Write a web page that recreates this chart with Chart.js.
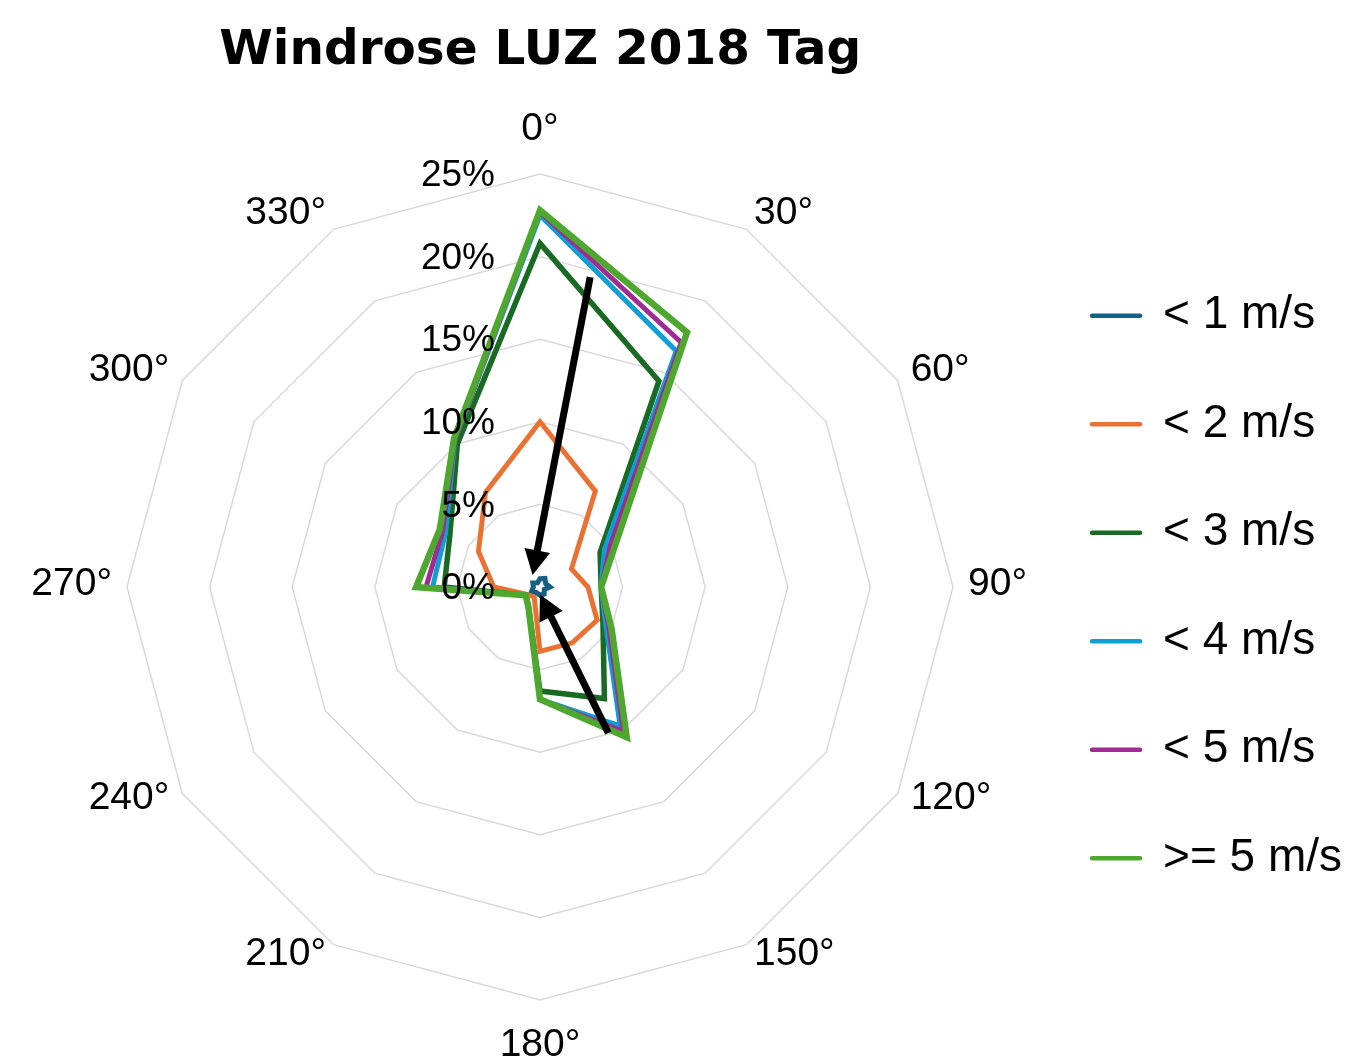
<!DOCTYPE html>
<html>
<head>
<meta charset="utf-8">
<script src="https://cdn.jsdelivr.net/npm/chart.js@4.4.1/dist/chart.umd.min.js"></script>
<style>
  html, body { margin: 0; padding: 0; background: #fff; overflow: hidden; }
  #wrap { position: relative; width: 1352px; height: 1056px; }
</style>
</head>
<body>
<div id="wrap"><canvas id="rose"></canvas></div>
<script>
const title = 'Windrose LUZ 2018 Tag'
const directions = ['0°', '30°', '60°', '90°', '120°', '150°', '180°', '210°', '240°', '270°', '300°', '330°']
const seriesNames = ['< 1 m/s', '< 2 m/s', '< 3 m/s', '< 4 m/s', '< 5 m/s', '>= 5 m/s']

// share of hours per direction, in %
const below1 = [0.5, 0.6, 0.4, 0.6, 0.3, 0.5, 0.5, 0.4, 0.6, 0.4, 0.5, 0.3]
const below2 = [10.0, 6.7, 2.2, 2.9, 4.0, 3.9, 3.9, 0.7, 0.9, 2.8, 4.3, 6.6]
const below3 = [20.8, 14.4, 4.2, 3.7, 4.4, 7.8, 6.3, 1.4, 1.0, 5.8, 6.3, 10.0]
const below4 = [22.5, 16.5, 4.5, 3.7, 4.6, 9.7, 6.8, 1.4, 1.0, 6.5, 6.6, 10.3]
const below5 = [22.7, 17.1, 4.9, 3.7, 4.8, 10.1, 6.8, 1.4, 1.0, 6.9, 6.8, 10.3]
const atLeast5 = [22.8, 17.8, 5.3, 3.7, 5.0, 10.5, 6.8, 1.4, 1.0, 7.5, 7.0, 10.4]

const axisMax = 25
const axisStep = 5

// black annotation arrows, [degrees, %] from tail to tip
const arrowTails = [[9.2, 19.0], [154.9, 9.75]]
const arrowTips = [[328, 0.85], [180, 0.45]]

const colors = ['#156082', '#E97132', '#196B24', '#0F9ED5', '#A02B93', '#4EA72E']
const widths = [5, 5, 5.5, 5, 5, 6.5]
const drawOrder = [5, 4, 3, 2, 1, 0]
const values = [below1, below2, below3, below4, below5, atLeast5]

const labelFont = 'Liberation Sans, Arial, sans-serif'

const polarPoint = (scale, deg, value) => {
  const d = scale.getDistanceFromCenterForValue(value)
  const a = deg * Math.PI / 180
  return [scale.xCenter + d * Math.sin(a), scale.yCenter - d * Math.cos(a)]
}

const arrowPlugin = {
  id: 'arrows',
  afterDatasetsDraw(chart) {
    const scale = chart.scales.r
    const ctx = chart.ctx
    ctx.save()
    ctx.fillStyle = '#000'
    ctx.strokeStyle = '#000'
    ctx.lineWidth = 7
    arrowTails.forEach((tail, i) => {
      const [x1, y1] = polarPoint(scale, tail[0], tail[1])
      const [x2, y2] = polarPoint(scale, arrowTips[i][0], arrowTips[i][1])
      const len = Math.hypot(x2 - x1, y2 - y1)
      const ux = (x2 - x1) / len
      const uy = (y2 - y1) / len
      const head = 25
      const half = 13
      const bx = x2 - ux * head
      const by = y2 - uy * head
      ctx.beginPath()
      ctx.moveTo(x1, y1)
      ctx.lineTo(bx + ux * 2, by + uy * 2)
      ctx.stroke()
      ctx.beginPath()
      ctx.moveTo(x2, y2)
      ctx.lineTo(bx - uy * half, by + ux * half)
      ctx.lineTo(bx + uy * half, by - ux * half)
      ctx.closePath()
      ctx.fill()
    })
    ctx.restore()
  }
}

const textPlugin = {
  id: 'roseText',
  afterDraw(chart) {
    const scale = chart.scales.r
    const ctx = chart.ctx
    const area = chart.chartArea
    ctx.save()
    ctx.fillStyle = '#000'

    // title over the plot
    ctx.font = 'bold 48.5px DejaVu Sans, Verdana, sans-serif'
    ctx.textAlign = 'center'
    ctx.textBaseline = 'alphabetic'
    ctx.fillText(title, (area.left + area.right) / 2, 64)

    // direction labels, anchored just outside the outer ring
    ctx.font = '39px ' + labelFont
    ctx.textBaseline = 'middle'
    directions.forEach((label, i) => {
      const p = scale.getPointPosition(i, scale.drawingArea + 15)
      const a = scale.getIndexAngle(i)
      const s = Math.sin(a)
      const c = Math.cos(a)
      ctx.textAlign = s > 0.01 ? 'left' : (s < -0.01 ? 'right' : 'center')
      const dy = Math.abs(s) < 0.01 ? -c * 30 : -3
      ctx.fillText(label, p.x, p.y + dy)
    })

    // percent ticks
    ctx.font = '37px ' + labelFont
    ctx.textAlign = 'right'
    scale.ticks.forEach(t => {
      const y = scale.yCenter - scale.getDistanceFromCenterForValue(t.value)
      ctx.fillText(t.value + '%', scale.xCenter - 45, y + 2)
    })
    ctx.restore()
  }
}

const ctx = document.getElementById('rose')
new Chart(ctx, {
  type: 'radar',
  data: {
    labels: directions,
    datasets: seriesNames.map((name, i) => ({
      label: name,
      data: values[i],
      borderColor: colors[i],
      backgroundColor: colors[i],
      borderWidth: widths[i],
      borderCapStyle: 'round',
      borderJoinStyle: 'miter',
      pointRadius: 0,
      fill: false,
      tension: 0,
      order: drawOrder[i]
    }))
  },
  options: {
    responsive: true,
    maintainAspectRatio: false,
    animation: false,
    layout: {
      padding: { top: 174, bottom: 56, left: 51, right: 0 }
    },
    plugins: {
      title: { display: false },
      tooltip: { enabled: false },
      legend: {
        position: 'right',
        align: 'center',
        labels: {
          usePointStyle: true,
          pointStyle: 'line',
          pointStyleWidth: 48,
          padding: 62.5,
          color: '#000',
          font: { family: labelFont, size: 46 },
          sort: (a, b) => a.datasetIndex - b.datasetIndex,
          generateLabels: (chart) => Chart.defaults.plugins.legend.labels.generateLabels(chart)
            .map(item => ({ ...item, lineWidth: 4.5, lineCap: 'round', strokeStyle: colors[item.datasetIndex] }))
        }
      }
    },
    scales: {
      r: {
        min: 0,
        max: axisMax,
        ticks: { display: false, stepSize: axisStep },
        pointLabels: { display: false },
        angleLines: { display: false },
        grid: { color: '#d9d9d9', lineWidth: 1.5 }
      }
    }
  },
  plugins: [arrowPlugin, textPlugin]
})
</script>
</body>
</html>
